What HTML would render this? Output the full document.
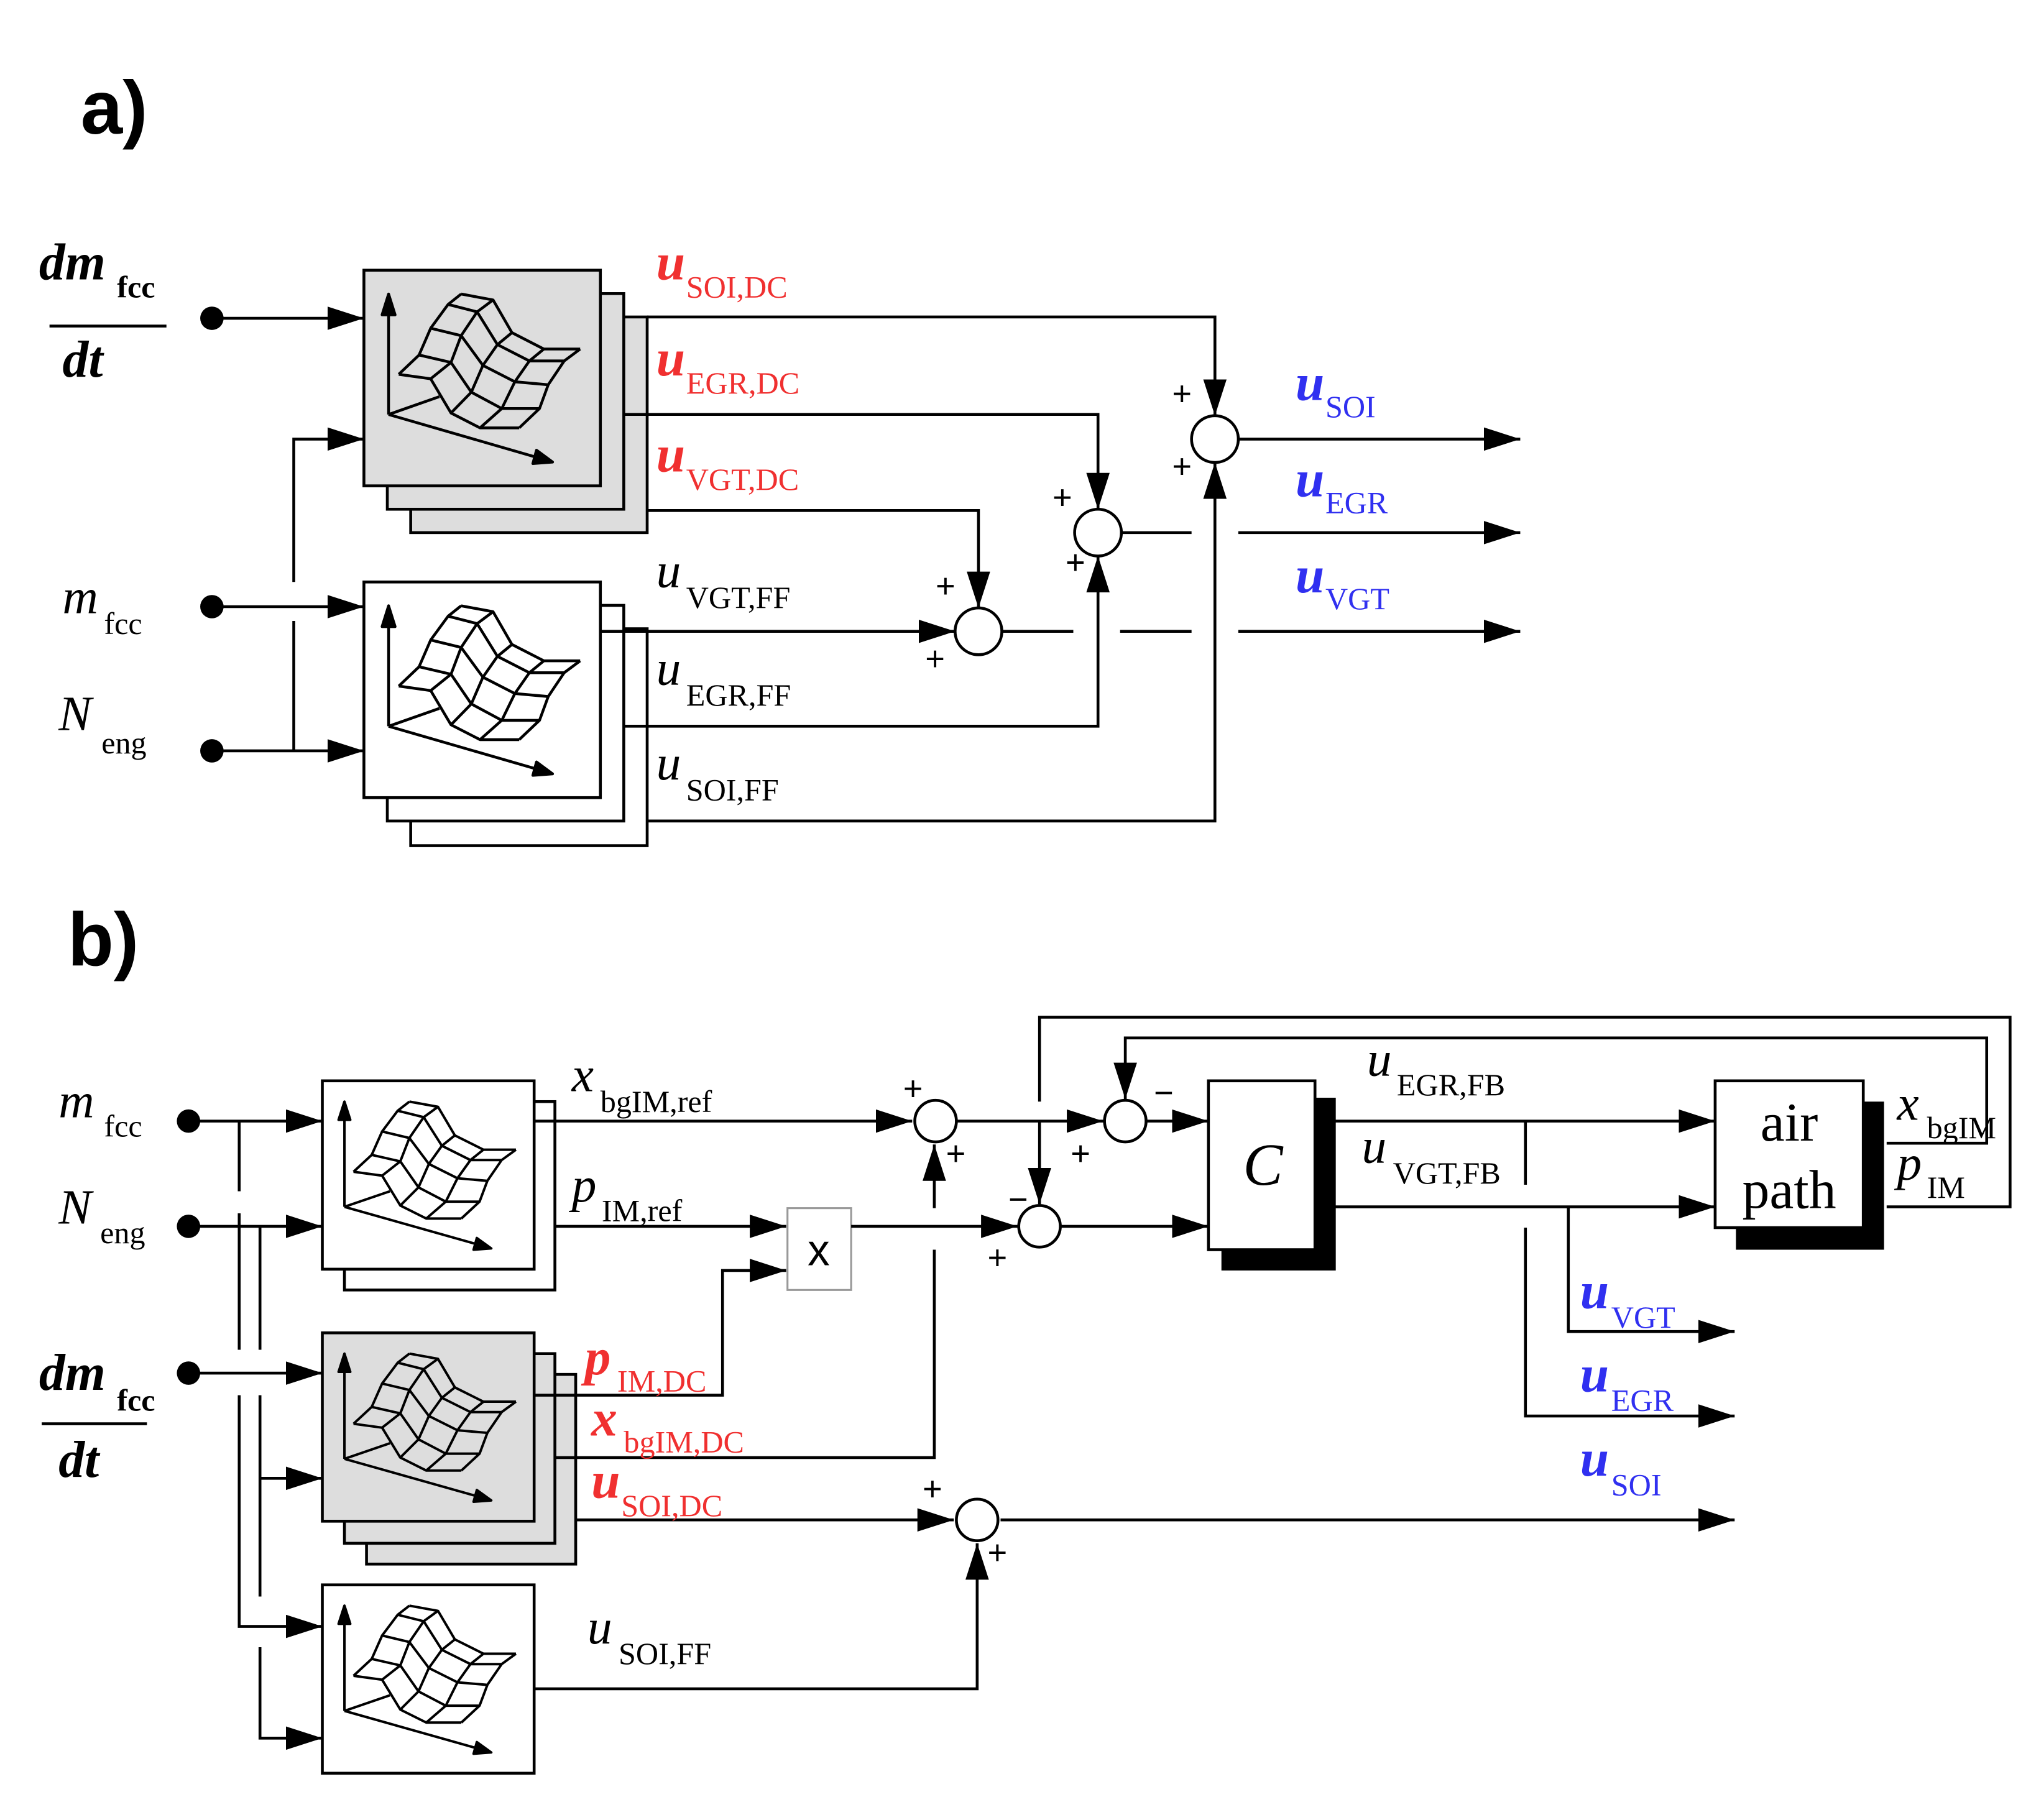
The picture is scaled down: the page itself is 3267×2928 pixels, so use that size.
<!DOCTYPE html>
<html><head><meta charset="utf-8"><style>
html,body{margin:0;padding:0;background:#fff;}
svg{display:block;}
text{font-family:"Liberation Serif",serif;}
.l{fill:none;stroke:#000;stroke-width:2.2;}
.bi{font-weight:bold;font-style:italic;font-size:40px;}
.it{font-style:italic;font-size:38px;}
.sb{font-size:24px;}
.red{fill:#f03030;}
.blue{fill:#3030f0;}
text.pl{font-family:"Liberation Sans",sans-serif;font-size:26px;}
text.hd{font-family:"Liberation Sans",sans-serif;font-weight:bold;font-size:58px;}
</style></head><body>
<svg width="3267" height="2928" viewBox="0 0 1563 1401" xmlns="http://www.w3.org/2000/svg">
<defs>
<marker id="ar" markerUnits="userSpaceOnUse" markerWidth="30" markerHeight="20" refX="28" refY="9" orient="auto">
<path d="M0,0 L28,9 L0,18 z" fill="#000"/></marker>
<g id="ic" fill="none" stroke="#000" stroke-width="1.9" stroke-linejoin="round">
<line x1="17" y1="97" x2="17" y2="27"/><polygon points="17,16 12.5,30 21.5,30" fill="#000"/>
<line x1="17" y1="97" x2="118" y2="125.5"/><polygon points="130,129 116.4,130 118.9,121" fill="#000"/>
<line x1="17" y1="97" x2="52" y2="85"/>
<polyline points="24,70 46,73 60,96 80,106 107,106"/>
<polyline points="38,57 60,62 74,82 95,93 121,93"/>
<polyline points="46,39 67,44 82,64 104,75 127,77"/>
<polyline points="58,23 78,28 92,50 114,61 138,61"/>
<polyline points="67,16 89,20 102,42 124,53 149,53"/>
<polyline points="24,70 38,57 46,39 58,23 67,16"/>
<polyline points="46,73 60,62 67,44 78,28 89,20"/>
<polyline points="60,96 74,82 82,64 92,50 102,42"/>
<polyline points="80,106 95,93 104,75 114,61 124,53"/>
<polyline points="107,106 121,93 127,77 138,61 149,53"/>
</g>
</defs>
<rect width="1563" height="1401" fill="#fff"/>

<!-- ===== a) ===== -->
<text x="62" y="103" class="hd">a)</text>
<text x="30" y="215" class="bi">dm</text><text x="90" y="229" class="sb" font-weight="bold">fcc</text>
<line x1="38" y1="251" x2="128" y2="251" class="l"/>
<text x="48" y="290" class="bi">dt</text>
<text x="48" y="472" class="it">m</text><text x="80" y="488" class="sb">fcc</text>
<text x="45" y="562" class="it">N</text><text x="78" y="580" class="sb">eng</text>
<circle cx="163" cy="245" r="9"/><circle cx="163" cy="467" r="9"/><circle cx="163" cy="578" r="9"/>
<line x1="163" y1="245" x2="280" y2="245" class="l" marker-end="url(#ar)"/>
<line x1="163" y1="467" x2="280" y2="467" class="l" marker-end="url(#ar)"/>
<line x1="163" y1="578" x2="280" y2="578" class="l" marker-end="url(#ar)"/>
<polyline points="226,448 226,338 280,338" class="l" marker-end="url(#ar)"/>
<line x1="226" y1="478" x2="226" y2="578" class="l"/>
<rect x="316" y="244" width="182" height="166" class="l" style="fill:#ddd"/>
<rect x="298" y="226" width="182" height="166" class="l" style="fill:#ddd"/>
<rect x="280" y="208" width="182" height="166" class="l" style="fill:#ddd"/>
<use href="#ic" transform="translate(280,208) scale(1.117,1.145)"/>
<rect x="316" y="484" width="182" height="167" class="l" style="fill:#fff"/>
<rect x="298" y="466" width="182" height="166" class="l" style="fill:#fff"/>
<rect x="280" y="448" width="182" height="166" class="l" style="fill:#fff"/>
<use href="#ic" transform="translate(280,448) scale(1.117,1.145)"/>
<polyline points="498,244 935,244 935,320" class="l" marker-end="url(#ar)"/>
<polyline points="480,319 845,319 845,392" class="l" marker-end="url(#ar)"/>
<polyline points="498,393 753,393 753,468" class="l" marker-end="url(#ar)"/>
<line x1="462" y1="486" x2="735" y2="486" class="l" marker-end="url(#ar)"/>
<polyline points="480,559 845,559 845,428" class="l" marker-end="url(#ar)"/>
<polyline points="498,632 935,632 935,356" class="l" marker-end="url(#ar)"/>
<circle cx="935" cy="338" r="18" class="l"/>
<circle cx="845" cy="410" r="18" class="l"/>
<circle cx="753" cy="486" r="18" class="l"/>
<line x1="953" y1="338" x2="1170" y2="338" class="l" marker-end="url(#ar)"/>
<line x1="863" y1="410" x2="917" y2="410" class="l"/>
<line x1="953" y1="410" x2="1170" y2="410" class="l" marker-end="url(#ar)"/>
<line x1="771" y1="486" x2="826" y2="486" class="l"/>
<line x1="862" y1="486" x2="917" y2="486" class="l"/>
<line x1="953" y1="486" x2="1170" y2="486" class="l" marker-end="url(#ar)"/>
<text x="902" y="312" class="pl">+</text><text x="902" y="368" class="pl">+</text>
<text x="810" y="392" class="pl">+</text><text x="820" y="442" class="pl">+</text>
<text x="720" y="460" class="pl">+</text><text x="712" y="516" class="pl">+</text>
<text x="505" y="215" class="bi red">u</text><text x="528" y="229" class="sb red">SOI,DC</text>
<text x="505" y="289" class="bi red">u</text><text x="528" y="303" class="sb red">EGR,DC</text>
<text x="505" y="363" class="bi red">u</text><text x="528" y="377" class="sb red">VGT,DC</text>
<text x="505" y="452" class="it">u</text><text x="528" y="468" class="sb">VGT,FF</text>
<text x="505" y="527" class="it">u</text><text x="528" y="543" class="sb">EGR,FF</text>
<text x="505" y="600" class="it">u</text><text x="528" y="616" class="sb">SOI,FF</text>
<text x="997" y="308" class="bi blue">u</text><text x="1020" y="321" class="sb blue">SOI</text>
<text x="997" y="382" class="bi blue">u</text><text x="1020" y="395" class="sb blue">EGR</text>
<text x="997" y="456" class="bi blue">u</text><text x="1020" y="469" class="sb blue">VGT</text>

<!-- ===== b) ===== -->
<text x="52" y="743" class="hd">b)</text>
<text x="45" y="860" class="it">m</text><text x="80" y="875" class="sb">fcc</text>
<text x="45" y="942" class="it">N</text><text x="77" y="957" class="sb">eng</text>
<text x="30" y="1070" class="bi">dm</text><text x="90" y="1086" class="sb" font-weight="bold">fcc</text>
<line x1="32" y1="1096" x2="113" y2="1096" class="l"/>
<text x="45" y="1137" class="bi">dt</text>
<circle cx="145" cy="863" r="9"/><circle cx="145" cy="944" r="9"/><circle cx="145" cy="1057" r="9"/>
<line x1="145" y1="863" x2="248" y2="863" class="l" marker-end="url(#ar)"/>
<line x1="145" y1="944" x2="248" y2="944" class="l" marker-end="url(#ar)"/>
<line x1="145" y1="1057" x2="248" y2="1057" class="l" marker-end="url(#ar)"/>
<line x1="184" y1="863" x2="184" y2="917" class="l"/>
<line x1="184" y1="934" x2="184" y2="1039" class="l"/>
<polyline points="184,1074 184,1252 248,1252" class="l" marker-end="url(#ar)"/>
<line x1="200" y1="944" x2="200" y2="1039" class="l"/>
<polyline points="200,1074 200,1229" class="l"/>
<line x1="200" y1="1138" x2="248" y2="1138" class="l" marker-end="url(#ar)"/>
<polyline points="200,1268 200,1338 248,1338" class="l" marker-end="url(#ar)"/>
<rect x="265" y="848" width="162" height="145" class="l" style="fill:#fff"/>
<rect x="248" y="832" width="163" height="145" class="l" style="fill:#fff"/>
<use href="#ic" transform="translate(248,832)"/>
<rect x="282" y="1058" width="161" height="146" class="l" style="fill:#ddd"/>
<rect x="265" y="1042" width="162" height="146" class="l" style="fill:#ddd"/>
<rect x="248" y="1026" width="163" height="145" class="l" style="fill:#ddd"/>
<use href="#ic" transform="translate(248,1026)"/>
<rect x="248" y="1220" width="163" height="145" class="l" style="fill:#fff"/>
<use href="#ic" transform="translate(248,1220)"/>
<line x1="411" y1="863" x2="702" y2="863" class="l" marker-end="url(#ar)"/>
<line x1="427" y1="944" x2="605" y2="944" class="l" marker-end="url(#ar)"/>
<polyline points="411,1074 556,1074 556,978 605,978" class="l" marker-end="url(#ar)"/>
<polyline points="427,1122 719,1122 719,962" class="l"/>
<line x1="719" y1="930" x2="719" y2="881" class="l" marker-end="url(#ar)"/>
<line x1="443" y1="1170" x2="734" y2="1170" class="l" marker-end="url(#ar)"/>
<polyline points="411,1300 752,1300 752,1188" class="l" marker-end="url(#ar)"/>
<line x1="770" y1="1170" x2="1335" y2="1170" class="l" marker-end="url(#ar)"/>
<rect x="606" y="930" width="49" height="63" fill="#fff" stroke="#999" stroke-width="1.5"/>
<text x="630" y="974" class="pl" style="font-size:34px" text-anchor="middle">x</text>
<circle cx="720" cy="863" r="16" class="l"/>
<circle cx="866" cy="863" r="16" class="l"/>
<circle cx="800" cy="944" r="16" class="l"/>
<circle cx="752" cy="1170" r="16" class="l"/>
<line x1="736" y1="863" x2="849" y2="863" class="l" marker-end="url(#ar)"/>
<line x1="800" y1="863" x2="800" y2="927" class="l" marker-end="url(#ar)"/>
<line x1="655" y1="944" x2="783" y2="944" class="l" marker-end="url(#ar)"/>
<polyline points="800,848 800,783 1547,783 1547,929 1452,929" class="l"/>
<polyline points="1452,880 1529,880 1529,799 866,799 866,846" class="l" marker-end="url(#ar)"/>
<line x1="882" y1="863" x2="930" y2="863" class="l" marker-end="url(#ar)"/>
<line x1="816" y1="944" x2="930" y2="944" class="l" marker-end="url(#ar)"/>
<rect x="940" y="845" width="88" height="133" fill="#000"/>
<rect x="930" y="832" width="82" height="130" class="l" style="fill:#fff"/>
<text x="972" y="912" font-style="italic" font-size="46" text-anchor="middle">C</text>
<line x1="1012" y1="863" x2="1320" y2="863" class="l" marker-end="url(#ar)"/>
<line x1="1012" y1="929" x2="1320" y2="929" class="l" marker-end="url(#ar)"/>
<line x1="1174" y1="863" x2="1174" y2="912" class="l"/>
<polyline points="1207,929 1207,1025 1335,1025" class="l" marker-end="url(#ar)"/>
<polyline points="1174,945 1174,1090 1335,1090" class="l" marker-end="url(#ar)"/>
<rect x="1336" y="848" width="114" height="114" fill="#000"/>
<rect x="1320" y="832" width="114" height="113" class="l" style="fill:#fff"/>
<text x="1377" y="878" font-size="42" text-anchor="middle">air</text>
<text x="1377" y="930" font-size="42" text-anchor="middle">path</text>
<text x="1460" y="862" class="it">x</text><text x="1483" y="876" class="sb">bgIM</text>
<text x="1460" y="908" class="it">p</text><text x="1483" y="922" class="sb">IM</text>
<text x="695" y="847" class="pl">+</text><text x="728" y="897" class="pl">+</text>
<text x="888" y="850" class="pl">−</text><text x="824" y="897" class="pl">+</text>
<text x="776" y="932" class="pl">−</text><text x="760" y="977" class="pl">+</text>
<text x="710" y="1155" class="pl">+</text><text x="760" y="1204" class="pl">+</text>
<text x="440" y="840" class="it">x</text><text x="462" y="856" class="sb">bgIM,ref</text>
<text x="440" y="925" class="it">p</text><text x="463" y="940" class="sb">IM,ref</text>
<text x="450" y="1058" class="bi red">p</text><text x="475" y="1071" class="sb red">IM,DC</text>
<text x="455" y="1105" class="bi red">x</text><text x="480" y="1118" class="sb red">bgIM,DC</text>
<text x="455" y="1153" class="bi red">u</text><text x="478" y="1167" class="sb red">SOI,DC</text>
<text x="452" y="1265" class="it">u</text><text x="476" y="1281" class="sb">SOI,FF</text>
<text x="1052" y="828" class="it">u</text><text x="1075" y="843" class="sb">EGR,FB</text>
<text x="1048" y="895" class="it">u</text><text x="1072" y="911" class="sb">VGT,FB</text>
<text x="1216" y="1007" class="bi blue">u</text><text x="1240" y="1022" class="sb blue">VGT</text>
<text x="1216" y="1071" class="bi blue">u</text><text x="1240" y="1086" class="sb blue">EGR</text>
<text x="1216" y="1136" class="bi blue">u</text><text x="1240" y="1151" class="sb blue">SOI</text>
</svg>
</body></html>
